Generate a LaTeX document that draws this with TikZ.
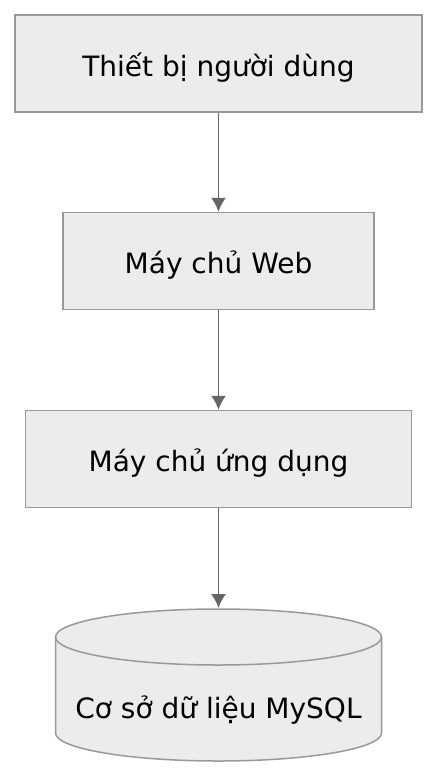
\documentclass[tikz,border=0pt]{standalone}
\usepackage{fontspec}
\setmainfont{DejaVu Sans}
\usepackage{tikz}
\usetikzlibrary{arrows.meta}
\definecolor{boxfill}{RGB}{236,236,236}
\definecolor{boxline}{RGB}{153,153,153}
\definecolor{arrowline}{RGB}{102,102,102}

\begin{document}
\begin{tikzpicture}[x=1pt, y=1pt,
	label/.style={inner sep=0pt, text height=25pt, text depth=0pt, font=\fontsize{28}{32}\selectfont},
	box/.style={label, rectangle, draw=boxline, fill=boxfill, line width=1.5pt, minimum height=97pt},
	link/.style={draw=arrowline, line width=1.8pt, -{Latex[length=14pt,width=15pt]}}]
	\useasboundingbox (0,0) rectangle (438,-777);

	\node [box, minimum width=407pt] (device) at (218.5,-63.5) {Thiết bị người dùng};
	\node [box, minimum width=311pt] (web) at (218.5,-261) {Máy chủ Web};
	\node [box, minimum width=386pt] (app) at (218.5,-459) {Máy chủ ứng dụng};

	% database cylinder
	\filldraw [fill=boxfill, draw=boxline, line width=1.5pt] (55.5,-637) -- (55.5,-733)
		arc [start angle=180, end angle=360, x radius=163, y radius=28] -- (381.5,-637)
		arc [start angle=0, end angle=180, x radius=163, y radius=28] -- cycle;
	\draw [boxline, line width=1.5pt] (55.5,-637) arc [start angle=180, end angle=360, x radius=163, y radius=28];
	\node [label] (db) at (218.5,-705.5) {Cơ sở dữ liệu MySQL};
	\coordinate (dbtop) at (218.5,-608);

	\draw [link] (device) -- (web);
	\draw [link] (web) -- (app);
	\draw [link] (app) -- (dbtop);
\end{tikzpicture}
\end{document}
